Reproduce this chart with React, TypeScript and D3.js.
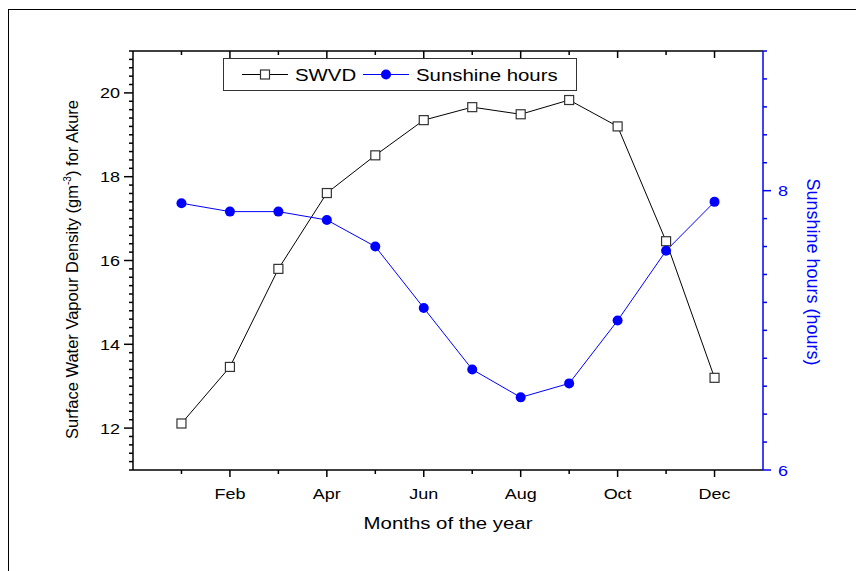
import React from "react";
import * as d3 from "d3";

const months = ["Jan", "Feb", "Mar", "Apr", "May", "Jun", "Jul", "Aug", "Sep", "Oct", "Nov", "Dec"];
const swvd = [12.11, 13.46, 15.8, 17.61, 18.51, 19.35, 19.66, 19.49, 19.83, 19.2, 16.46, 13.2];
const sunshine = [7.91, 7.85, 7.85, 7.79, 7.6, 7.16, 6.72, 6.52, 6.62, 7.07, 7.57, 7.92];
const xTickLabels = ["Feb", "Apr", "Jun", "Aug", "Oct", "Dec"];
const leftTicks = [12, 14, 16, 18, 20];
const rightTicks = [6, 8];

const W = 856, H = 571;
const L = 133, R = 763, T = 51, B = 470;
const FONT = "'Liberation Sans', Arial, sans-serif";
const BLUE = "#0000ff";
const S = 1.2; // horizontal stretch of glyphs

function HText(props: { x: number; y: number; size: number; anchor?: string; fill?: string; children: React.ReactNode }) {
  const { x, y, size, anchor = "start", fill = "#000", children } = props;
  return (
    <text transform={`translate(${x},${y}) scale(${S},1)`} textAnchor={anchor} fontSize={size} fill={fill}>
      {children}
    </text>
  );
}

export default function App() {
  const x = d3.scaleLinear().domain([0, 13]).range([L, R]);
  const yL = d3.scaleLinear().domain([11, 21]).range([B, T]);
  const yR = d3.scaleLinear().domain([6, 9]).range([B, T]);

  const lineL = d3.line<number>().x((_, i) => x(i + 1)).y((d) => yL(d));
  const lineR = d3.line<number>().x((_, i) => x(i + 1)).y((d) => yR(d));

  const xAll = d3.range(1, 13);
  const leftMinor = d3.range(11, 21.001, 0.2).filter((v) => Math.abs(v / 2 - Math.round(v / 2)) > 1e-6);
  const rightMinor = d3.range(6, 9.001, 0.2).filter((v) => Math.abs(v - 6) > 1e-6 && Math.abs(v - 8) > 1e-6);

  return (
    <svg width={W} height={H} style={{ position: "absolute", left: 0, top: 0 }} fontFamily={FONT}>
      <rect x={0} y={0} width={W} height={H} fill="#fff" />
      <rect x={8.5} y={9.5} width={W + 20} height={H + 20} fill="none" stroke="#000" strokeWidth={1} />

      {/* bottom + top axis */}
      <line x1={L} x2={R} y1={B} y2={B} stroke="#000" strokeWidth={1.5} />
      <line x1={L} x2={R} y1={T} y2={T} stroke="#000" strokeWidth={1.5} />
      {xAll.map((m) => {
        const major = m % 2 === 0;
        return (
          <g key={"xb" + m}>
            <line x1={x(m)} x2={x(m)} y1={B} y2={B + (major ? 7 : 4)} stroke="#000" strokeWidth={1.5} />
            <line x1={x(m)} x2={x(m)} y1={T} y2={T + (major ? 7 : 4)} stroke="#000" strokeWidth={1.5} />
          </g>
        );
      })}
      {xTickLabels.map((lab, i) => (
        <HText key={lab} x={x((i + 1) * 2)} y={B + 29} size={15} anchor="middle">
          {lab}
        </HText>
      ))}

      {/* left axis */}
      <line x1={L} x2={L} y1={T} y2={B} stroke="#000" strokeWidth={1.5} />
      {leftMinor.map((v) => (
        <line key={"lm" + v} x1={L - 4} x2={L} y1={yL(v)} y2={yL(v)} stroke="#000" strokeWidth={1.5} />
      ))}
      {leftTicks.map((v) => (
        <g key={"lt" + v}>
          <line x1={L - 9} x2={L} y1={yL(v)} y2={yL(v)} stroke="#000" strokeWidth={1.5} />
          <HText x={L - 13} y={yL(v) + 5.5} size={15} anchor="end">
            {v}
          </HText>
        </g>
      ))}
      <text
        transform={`translate(78,${(T + B) / 2 + 9}) rotate(-90)`}
        textAnchor="middle"
        fontSize={16.5}
        fill="#000"
      >
        Surface Water Vapour Density (gm
        <tspan fontSize={10} dy={-7}>-3</tspan>
        <tspan dy={7}>) for Akure</tspan>
      </text>

      {/* right axis */}
      <line x1={R} x2={R} y1={T} y2={B} stroke={BLUE} strokeWidth={1.5} />
      {rightMinor.map((v) => (
        <line key={"rm" + v} x1={R} x2={R + 4} y1={yR(v)} y2={yR(v)} stroke={BLUE} strokeWidth={1.5} />
      ))}
      {rightTicks.map((v) => (
        <g key={"rt" + v}>
          <line x1={R} x2={R + 8} y1={yR(v)} y2={yR(v)} stroke={BLUE} strokeWidth={1.5} />
          <HText x={R + 15} y={yR(v) + 5.5} size={15} fill={BLUE}>
            {v}
          </HText>
        </g>
      ))}
      <text
        transform={`translate(807,${272}) rotate(90)`}
        textAnchor="middle"
        fontSize={18}
        fill={BLUE}
      >
        Sunshine hours (hours)
      </text>

      {/* x label */}
      <HText x={(L + R) / 2} y={529} size={17} anchor="middle">
        Months of the year
      </HText>

      {/* series */}
      <path d={lineL(swvd) || ""} fill="none" stroke="#000" strokeWidth={1} />
      <path d={lineR(sunshine) || ""} fill="none" stroke={BLUE} strokeWidth={1} />
      {swvd.map((v, i) => (
        <rect
          key={"s" + i}
          x={x(i + 1) - 4.5}
          y={yL(v) - 4.5}
          width={9}
          height={9}
          fill="#fff"
          stroke="#333"
          strokeWidth={1.2}
        >
          <title>{months[i]}</title>
        </rect>
      ))}
      {sunshine.map((v, i) => (
        <circle key={"c" + i} cx={x(i + 1)} cy={yR(v)} r={5} fill={BLUE} />
      ))}

      {/* legend */}
      <rect x={223.5} y={58.5} width={353} height={32} fill="#fff" stroke="#333" strokeWidth={1} />
      <line x1={242} x2={288} y1={74.5} y2={74.5} stroke="#000" strokeWidth={1} />
      <rect x={260.5} y={70} width={9} height={9} fill="#fff" stroke="#333" strokeWidth={1.2} />
      <HText x={295} y={81} size={17}>SWVD</HText>
      <line x1={363} x2={409} y1={74.5} y2={74.5} stroke={BLUE} strokeWidth={1} />
      <circle cx={386} cy={74.5} r={5} fill={BLUE} />
      <HText x={416} y={81} size={17}>Sunshine hours</HText>
    </svg>
  );
}
